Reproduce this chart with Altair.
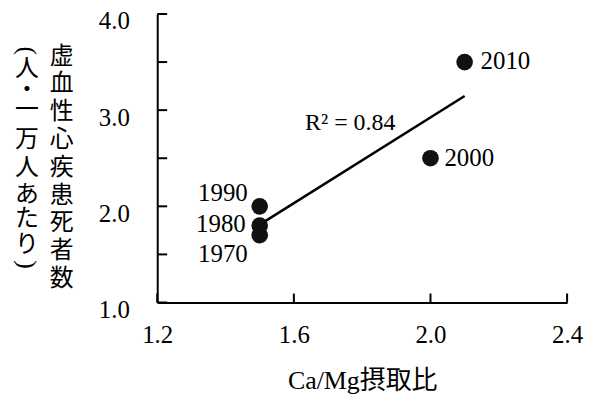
import altair as alt
import pandas as pd

# ---- data ----
years = ["1970", "1980", "1990", "2000", "2010"]
ca_mg_ratio = [1.5, 1.5, 1.5, 2.0, 2.1]
deaths = [1.7, 1.8, 2.0, 2.5, 3.5]
x_ticks = [1.2, 1.6, 2.0, 2.4]
y_labels = [1.0, 2.0, 3.0, 4.0]
y_ticks = [1.0, 1.5, 2.0, 2.5, 3.0, 3.5, 4.0]
r2_text = "R² = 0.84"
x_title = "Ca/Mg摂取比"
y_title_main = list("虚血性心疾患死者数")
y_title_unit = list("（人・一万人あたり）")

# ---- layout ----
W, H = 412, 290
X0, Y0 = 158, 13  # page position of plot origin

SERIF = "Liberation Serif"
MIXED = "Liberation Serif, Noto Sans CJK JP"
CJK = "Noto Sans CJK JP"

df = pd.DataFrame({"year": years, "x": ca_mg_ratio, "y": deaths})
xs = alt.Scale(domain=[1.2, 2.4], nice=False, zero=False)
ys = alt.Scale(domain=[1.0, 4.0], nice=False, zero=False)

x_axis = alt.Axis(values=x_ticks, format=".1f", title=x_title, titleFont=MIXED,
                  titleFontSize=26, titleFontWeight="normal", titleColor="black",
                  titleX=W / 2, titleY=86, titleBaseline="alphabetic", titleAlign="center",
                  labelFont=SERIF, labelFontSize=25, labelColor="black", labelPadding=20,
                  labelBaseline="top", labelFlush=False, ticks=False, tickSize=0,
                  domainColor="black", domainWidth=2, grid=False)
y_axis = alt.Axis(values=y_labels, format=".1f", title=None,
                  labelFont=SERIF, labelFontSize=25, labelColor="black", labelPadding=28,
                  labelOffset=7, labelFlush=False, ticks=False, tickSize=0,
                  domainColor="black", domainWidth=2, grid=False)

base = alt.Chart(df)

axes_layer = base.mark_point(opacity=0).encode(
    x=alt.X("x:Q", scale=xs, axis=x_axis),
    y=alt.Y("y:Q", scale=ys, axis=y_axis),
)

points = base.mark_circle(size=280, color="#111111", opacity=1).encode(
    x=alt.X("x:Q", scale=xs, axis=x_axis),
    y=alt.Y("y:Q", scale=ys, axis=y_axis),
)

reg = base.transform_regression("x", "y").mark_line(color="black", strokeWidth=2.5).encode(
    x=alt.X("x:Q", scale=xs, axis=x_axis),
    y=alt.Y("y:Q", scale=ys, axis=y_axis),
)

label_style = {
    "1970": dict(align="right", dx=-12, dy=19),
    "1980": dict(align="right", dx=-14, dy=-2),
    "1990": dict(align="right", dx=-12, dy=-13),
    "2000": dict(align="left", dx=14, dy=0),
    "2010": dict(align="left", dx=16, dy=-1),
}
labels = []
for yr, st in label_style.items():
    labels.append(
        base.transform_filter(alt.datum.year == yr)
        .mark_text(font=SERIF, fontSize=25, color="black", baseline="middle", **st)
        .encode(x=alt.X("x:Q", scale=xs, axis=x_axis), y=alt.Y("y:Q", scale=ys, axis=y_axis),
                text="year:N")
    )

ytick_layer = alt.Chart(pd.DataFrame({"v": y_ticks})).mark_rule(color="black", strokeWidth=2).encode(
    y=alt.Y("v:Q", scale=ys, axis=y_axis), x=alt.value(0), x2=alt.value(10))
xtick_layer = alt.Chart(pd.DataFrame({"v": x_ticks})).mark_rule(color="black", strokeWidth=2).encode(
    x=alt.X("v:Q", scale=xs, axis=x_axis), y=alt.value(H), y2=alt.value(H - 9))

r2 = alt.Chart(pd.DataFrame({"t": [r2_text]})).mark_text(
    font=SERIF, fontSize=24, color="black", align="center", baseline="middle"
).encode(x=alt.value(352 - X0), y=alt.value(123 - Y0), text="t:N")

# vertical y title: two columns of upright characters
main_y = [56 + i * 27.9 for i in range(len(y_title_main))]
unit_y = [50, 68, 89, 110, 140, 168, 195, 219, 245, 265]
upright = [(c, 62, y) for c, y in zip(y_title_main, main_y)]
upright += [(c, 27, y) for c, y in zip(y_title_unit, unit_y) if c not in "（）"]
ytitle_layers = []
for c, px, py in upright:
    ytitle_layers.append(
        alt.Chart(pd.DataFrame({"t": [c]})).mark_text(
            font=CJK, fontSize=24, color="black", align="center", baseline="middle"
        ).encode(x=alt.value(px - X0), y=alt.value(py - Y0), text="t:N")
    )
# parentheses turned a quarter for vertical writing
for c, py in zip(y_title_unit, unit_y):
    if c in "（）":
        ch = "(" if c == "（" else ")"
        ytitle_layers.append(
            alt.Chart(pd.DataFrame({"t": [ch]})).mark_text(
                font=SERIF, fontSize=26, color="black", align="center", baseline="middle"
            ).encode(x=alt.value(27 - X0), y=alt.value(py - Y0), text="t:N",
                     angle=alt.value(90))
        )

chart = alt.layer(axes_layer, ytick_layer, xtick_layer, reg, points, *labels, r2,
                  *ytitle_layers).properties(
    width=W, height=H,
    autosize=alt.AutoSizeParams(type="none"),
    padding={"left": 150, "top": 5, "right": 20, "bottom": 96},
    background="white",
).configure_view(stroke=None)

chart.save("out.html", embed_options={"renderer": "svg", "actions": False})
